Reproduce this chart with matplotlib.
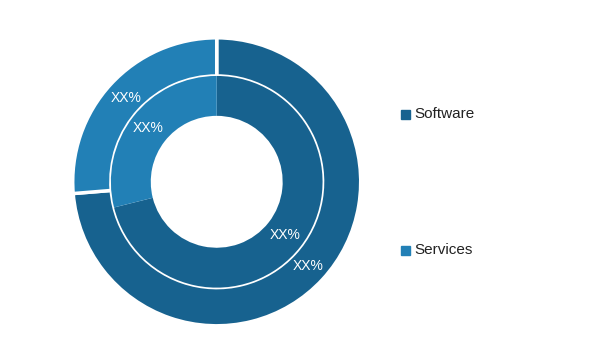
import matplotlib.pyplot as plt
from matplotlib.patches import Rectangle

plt.rcParams['font.family'] = ['Liberation Sans', 'DejaVu Sans']

# data
segments = ['Software', 'Services']
outer_share = [73.7, 26.3]
inner_share = [71.1, 28.9]
pct_labels = ['XX%', 'XX%']
colors = ['#17628f', '#2280b6']

fig = plt.figure(figsize=(6, 3.6), dpi=100)
ax = fig.add_axes([0.1212, 0.095, 0.48, 0.8])

# outer ring (white separators)
ax.pie(outer_share, colors=colors, radius=1.0, startangle=90, counterclock=False,
       labels=pct_labels, labeldistance=0.86,
       textprops=dict(color='white', fontsize=10, ha='center', va='center'),
       wedgeprops=dict(width=0.265, edgecolor='white', linewidth=2.5))

# inner ring
ax.pie(inner_share, colors=colors, radius=0.735, startangle=90, counterclock=False,
       labels=pct_labels, labeldistance=0.82,
       textprops=dict(color='white', fontsize=10, ha='center', va='center'),
       wedgeprops=dict(width=0.277, linewidth=0))

ax.set_xlim(-1, 1)
ax.set_ylim(-1, 1)
ax.set_aspect('equal')
ax.axis('off')

# legend
legend_y = [0.683, 0.305]
for name, col, y in zip(segments, colors, legend_y):
    fig.patches.append(Rectangle((0.669, y - 0.0125), 0.0145, 0.024,
                                 transform=fig.transFigure, color=col))
    fig.text(0.69, y, name, fontsize=11, color='#222222', va='center', ha='left')

fig.savefig('out.png', dpi=100)
